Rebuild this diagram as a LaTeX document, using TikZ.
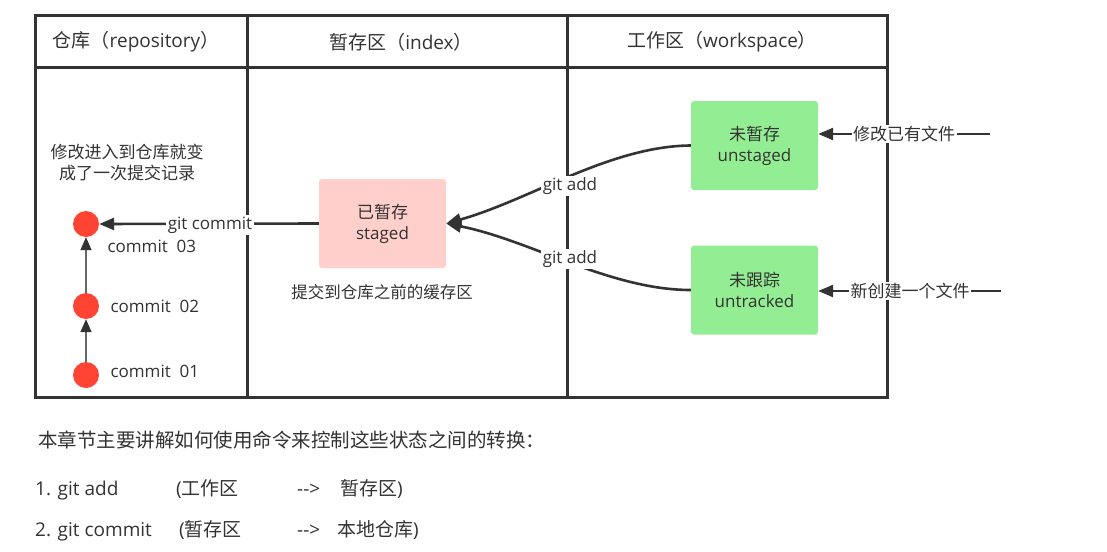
\documentclass[tikz,border=0pt]{standalone}
\usepackage{fontspec}
\setmainfont{Open Sans}
\newfontfamily\cjk{Noto Sans CJK SC}
\usetikzlibrary{arrows.meta}
\definecolor{ln}{HTML}{333333}
\definecolor{cred}{HTML}{FF4433}
\definecolor{stg}{HTML}{FFCFCB}
\definecolor{grn}{HTML}{93EE93}
\definecolor{txt}{HTML}{333333}
\tikzset{
  frame/.style={draw=ln, line width=3pt},
  hdr/.style={font=\fontsize{19}{22}\selectfont, text=txt},
  box/.style={rounded corners=3pt, minimum width=127pt, minimum height=89pt, align=center, font=\fontsize{17}{21}\selectfont, text=txt, inner sep=0pt},
  dot/.style={circle, fill=cred, minimum size=26pt, inner sep=0pt},
  lbl/.style={font=\fontsize{17}{20}\selectfont, text=txt},
  lblw/.style={lbl, fill=white, inner sep=1.5pt},
  conn/.style={draw=ln, line width=2.6pt, -{Triangle[length=15pt,width=12pt]}},
  thin/.style={draw=gray!80!black, line width=1.5pt, -{Triangle[length=13pt,width=11pt,color=ln]}},
  body/.style={font=\fontsize{19}{22}\selectfont, text=txt, anchor=base west, inner sep=0pt},
}
\begin{document}
\begin{tikzpicture}[x=1pt,y=-1pt]
\useasboundingbox[fill=white] (0,0) rectangle (1107,551);
% table
\draw[frame] (35,16) rectangle (887,397);
\draw[frame] (35,67) -- (887,67);
\draw[frame] (247,16) -- (247,397);
\draw[frame] (567,16) -- (567,397);
\node[hdr] (h1) at (136,42) {{\cjk 仓库（}repository{\cjk ）}};
\node[hdr] (h2) at (401,42) {{\cjk 暂存区（}index{\cjk ）}};
\node[hdr] (h3) at (722,42) {{\cjk 工作区（}workspace{\cjk ）}};
% repository
\node[lbl, align=center, font=\fontsize{17}{21}\cjk] (note1) at (127,163) {修改进入到仓库就变\\成了一次提交记录};
\node[dot] (c3) at (86,224) {};
\node[dot] (c2) at (86,306) {};
\node[dot] (c1) at (86,375) {};
\node[lbl, anchor=west] (l3) at (104,246) {commit\ \ 03};
\node[lbl, anchor=west] (l2) at (107,306) {commit\ \ 02};
\node[lbl, anchor=west] (l1) at (107,371) {commit\ \ 01};
\draw[thin] (c1) -- (c2);
\draw[thin] (c2) -- (c3);
% staging
\node[box, fill=stg] (stg) at (382.5,223.5) {{\cjk 已暂存}\\staged};
\node[lbl, font=\fontsize{16.5}{20}\cjk] (note2) at (382,292) {提交到仓库之前的缓存区};
% workspace
\node[box, fill=grn] (uns) at (754.5,145.5) {{\cjk 未暂存}\\unstaged};
\node[box, fill=grn] (unt) at (754.5,290) {{\cjk 未跟踪}\\untracked};
\coordinate (src1) at (990,134);
\coordinate (src2) at (1001,291);
% connectors
\draw[conn] (stg.west) -- (c3.east);
\node[lblw] (gc) at (210,225) {git commit};
\draw[conn] (uns.west) .. controls (610,146) and (530,200) .. (stg.east);
\draw[conn] (unt.west) .. controls (610,290) and (530,240) .. (stg.east);
\node[lblw] (ga1) at (570,186) {git add};
\node[lblw] (ga2) at (570,259) {git add};
\draw[conn] (src1) -- (uns.east |- src1);
\draw[conn] (src2) -- (unt.east |- src2);
\node[lblw, font=\fontsize{17}{20}\cjk] (m1) at (904,134) {修改已有文件};
\node[lblw, font=\fontsize{17}{20}\cjk] (m2) at (910,291) {新创建一个文件};
% bottom text
\node[body, font=\fontsize{19.5}{22}\cjk] (t0) at (38,447) {本章节主要讲解如何使用命令来控制这些状态之间的转换：};
\node[body] (a1) at (35,495) {1. git add};
\node[body] (a2) at (176,495) {({\cjk 工作区}};
\node[body] (a3) at (297,495) {-{}->};
\node[body] (a4) at (340,495) {{\cjk 暂存区})};
\node[body] (b1) at (35,536) {2. git commit};
\node[body] (b2) at (179,536) {({\cjk 暂存区}};
\node[body] (b3) at (297,536) {-{}->};
\node[body] (b4) at (337,536) {{\cjk 本地仓库})};
\end{tikzpicture}
\end{document}
